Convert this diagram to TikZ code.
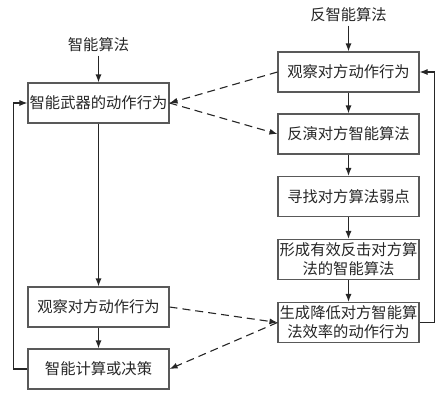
\documentclass[tikz,border=0pt]{standalone}
\usepackage{fontspec}
\newfontfamily\cjk{Noto Sans CJK SC}
\usetikzlibrary{arrows.meta}

\tikzset{
	caja/.style={draw=black!65, line width=1.1bp, minimum width=141bp, minimum height=40bp,
		inner sep=1bp, align=center, text=black!85},
	titulo/.style={text=black!85},
	flecha/.style={->, line width=1.1bp, draw=black!85},
	rayas/.style={->, line width=1.1bp, draw=black!85, dash pattern=on 8bp off 5bp}
}

\begin{document}
\begin{tikzpicture}[x=1bp,y=-1bp, font=\cjk\fontsize{15.3bp}{19bp}\selectfont,
	>={Latex[length=8bp,width=6bp]}]
			\useasboundingbox (0,0) rectangle (437,400);

			% Columna izquierda
			\node[titulo] (alg) at (98.5,45) {智能算法};
			\node[caja] (arma) at (98.5,103) {智能武器的动作行为};
			\node[caja] (obsI) at (98.5,307) {观察对方动作行为};
			\node[caja] (calc) at (98.5,369) {智能计算或决策};

			% Columna derecha
			\node[titulo] (anti) at (348.5,15) {反智能算法};
			\node[caja] (obsD) at (348.5,72) {观察对方动作行为};
			\node[caja] (inv) at (348.5,134) {反演对方智能算法};
			\node[caja] (debil) at (348.5,196.5) {寻找对方算法弱点};
			\node[caja] (forma) at (348.5,259.5) {形成有效反击对方算\\法的智能算法};
			\node[caja] (gen) at (348.5,322.5) {生成降低对方智能算\\法效率的动作行为};

			% Flechas verticales
			\draw[flecha] (alg) -- (arma);
			\draw[flecha] (arma) -- (obsI);
			\draw[flecha] (obsI) -- (calc);
			\draw[flecha] (anti) -- (obsD);
			\draw[flecha] (obsD) -- (inv);
			\draw[flecha] (inv) -- (debil);
			\draw[flecha] (debil) -- (forma);
			\draw[flecha] (forma) -- (gen);

			% Realimentaciones
			\draw[flecha] (calc.west) -- ++(-14,0) |- (arma.west);
			\draw[flecha] (gen.east) -- ++(15,0) |- (obsD.east);

			% Lineas de trazos
			\draw[rayas] (obsD.west) -- (arma.east);
			\draw[rayas] (arma.east) -- (inv.west);
			\draw[rayas] (obsI.east) -- (gen.west);
			\draw[rayas] (gen.west) -- (calc.east);
		\end{tikzpicture}
\end{document}
